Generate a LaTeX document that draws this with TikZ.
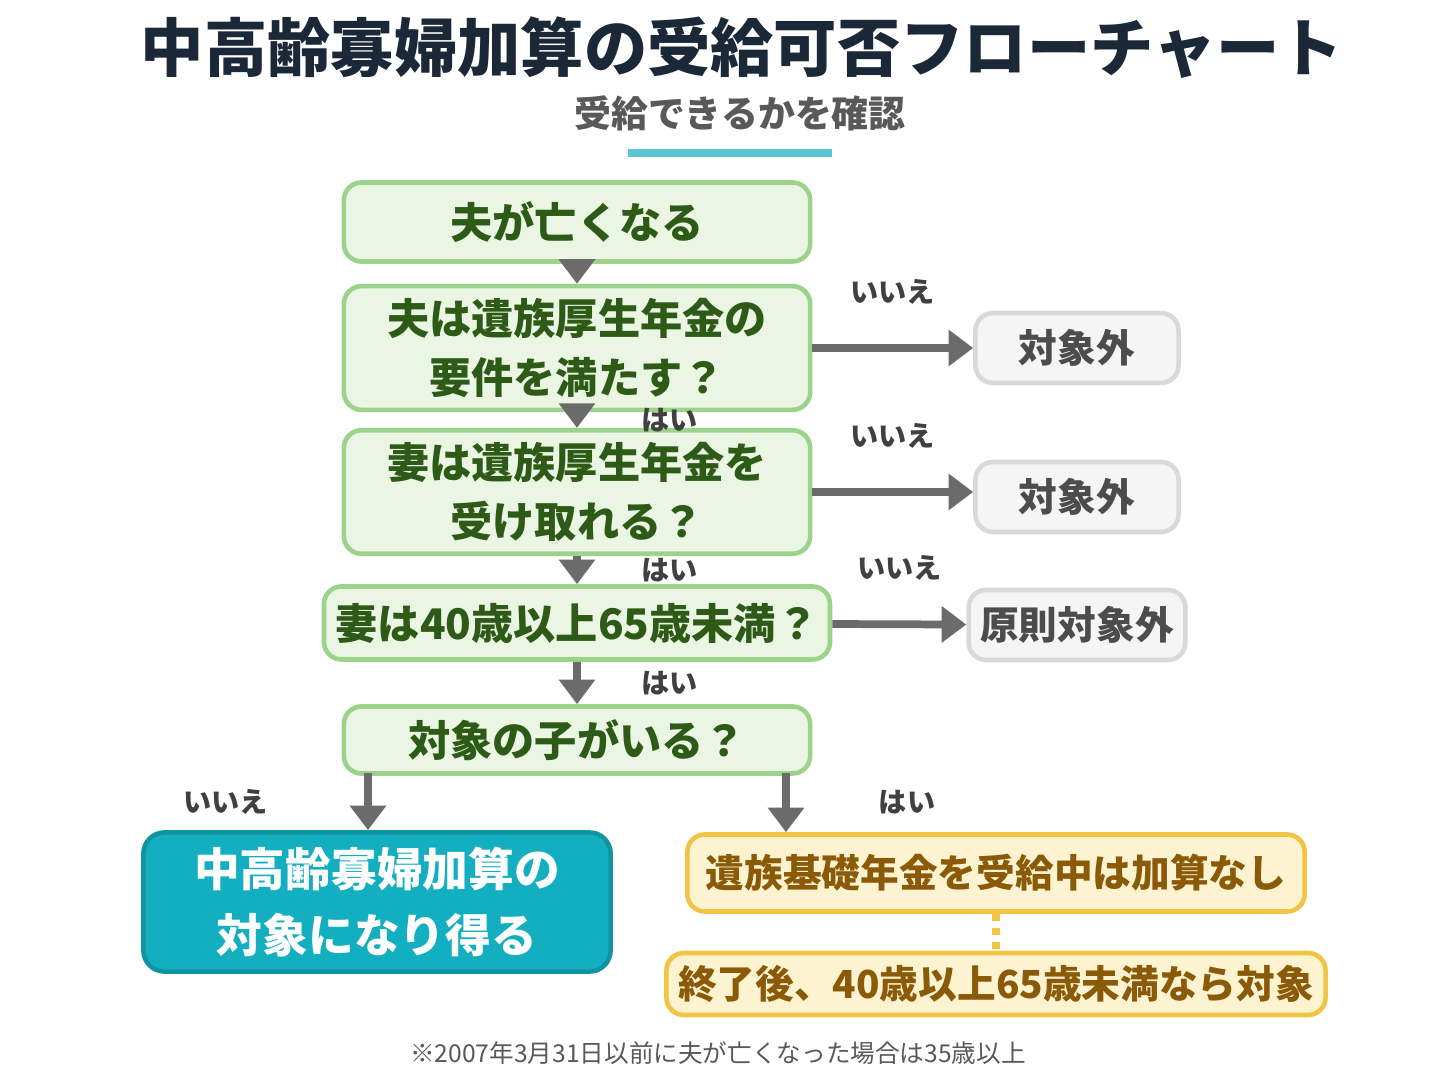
\documentclass[tikz,border=0pt]{standalone}
\usepackage{fontspec}
\setmainfont{Noto Sans CJK JP}
\usetikzlibrary{positioning, arrows.meta}
\definecolor{navy}{HTML}{1B2838}
\definecolor{gfill}{HTML}{EAF6E3}
\definecolor{gline}{HTML}{9BD38A}
\definecolor{gtext}{HTML}{2D5A16}
\definecolor{teal}{HTML}{13AEBF}
\definecolor{yfill}{HTML}{FDF3D0}
\definecolor{yline}{HTML}{F2C444}
\definecolor{ytext}{HTML}{8A5A08}
\definecolor{arr}{HTML}{6B6B6B}
\tikzset{
  stage/.style={draw=gline, fill=gfill, line width=1.3pt, rounded corners=5pt, text=gtext,
    font=\fontsize{12}{17}\selectfont\bfseries, align=center, minimum width=4.66cm},
  sidebox/.style={draw=black!15, fill=black!4, line width=1.3pt, rounded corners=5pt, text=black!70,
    font=\fontsize{11}{14}\selectfont\bfseries, minimum width=2.03cm, minimum height=0.7cm},
  notebox/.style={draw=yline, fill=yfill, line width=1.3pt, rounded corners=5pt, text=ytext,
    font=\fontsize{11}{14}\selectfont\bfseries, minimum width=6.17cm},
  flow/.style={draw=arr, line width=2.2pt, -{Triangle[length=7pt,width=10pt]}},
  lab/.style={font=\fontsize{8}{10}\selectfont\bfseries, text=black!75}
}
\begin{document}
\begin{tikzpicture}[x=0.01cm, y=-0.01cm]
\useasboundingbox[fill=white] (0,0) rectangle (1448,1086);
% title
\node[text=navy, font=\fontsize{18}{20}\selectfont\bfseries] (title) at (742,48) {中高齢寡婦加算の受給可否フローチャート};
\node[text=black!65, font=\fontsize{10.5}{12}\selectfont\bfseries] (sub) at (740,113) {受給できるかを確認};
\draw[teal!70, line width=2.5pt] (628,153) -- (832,153);
% main steps
\node[stage, minimum height=0.79cm] (s1) at (577,222) {夫が亡くなる};
\node[stage, minimum height=1.02cm] (s2) at (577,348) {夫は遺族厚生年金の\\要件を満たす？};
\node[stage, minimum height=1.03cm] (s3) at (577,492) {妻は遺族厚生年金を\\受け取れる？};
\node[stage, minimum height=0.73cm] (s4) at (577,623) {妻は40歳以上65歳未満？};
\node[stage, minimum height=0.67cm] (s5) at (577,740) {対象の子がいる？};
% side results
\node[sidebox] (n2) at (1077,348) {対象外};
\node[sidebox] (n3) at (1077,497) {対象外};
\node[sidebox] (n4) at (1077,625) {原則対象外};
% final results
\node[draw=teal!85!black, fill=teal, line width=1.3pt, rounded corners=6pt, text=white,
  font=\fontsize{13}{19}\selectfont\bfseries, align=center, minimum width=4.67cm, minimum height=1.39cm]
  (yes) at (377,902) {中高齢寡婦加算の\\対象になり得る};
\node[notebox, minimum height=0.77cm] (y1) at (996,873) {遺族基礎年金を受給中は加算なし};
\node[notebox, minimum height=0.62cm] (y2) at (996,984) {終了後、40歳以上65歳未満なら対象};
\draw[yline, line width=2pt, dotted] (y1) -- (y2);
% arrows
\draw[flow] (s1) -- (s2);
\draw[flow] (s2) -- node[lab, right=14pt] {はい} (s3);
\draw[flow] (s3) -- node[lab, right=14pt] {はい} (s4);
\draw[flow] (s4) -- node[lab, right=14pt] {はい} (s5);
\draw[flow] (s2) -- node[lab, above=8pt] {いいえ} (n2);
\draw[flow] (s3) -- node[lab, above=8pt] {いいえ} (n3.west |- s3);
\draw[flow] (s4) -- node[lab, above=8pt] {いいえ} (n4);
\coordinate (c5l) at (368,773);
\coordinate (c5r) at (786,773);
\draw[flow] (c5l) -- node[lab, left=24pt] {いいえ} (c5l |- yes.north);
\draw[flow] (c5r) -- node[lab, right=22pt] {はい} (c5r |- y1.north);
% footnote
\node[text=black!65, font=\fontsize{7}{9}\selectfont] (foot) at (718,1053) {※2007年3月31日以前に夫が亡くなった場合は35歳以上};
\end{tikzpicture}
\end{document}
